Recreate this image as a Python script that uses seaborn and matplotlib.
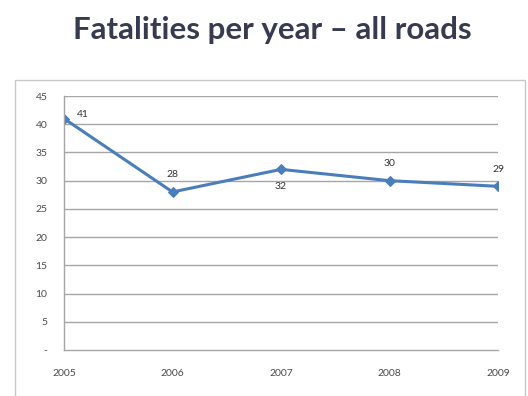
import matplotlib
matplotlib.use("Agg")
import matplotlib.pyplot as plt
from matplotlib.patches import Rectangle
import seaborn as sns
import pandas as pd

years = [2005, 2006, 2007, 2008, 2009]
fatalities = [41, 28, 32, 30, 29]
label_pos = ["right", "above", "below", "above", "above"]
y_ticks = [0, 5, 10, 15, 20, 25, 30, 35, 40, 45]
y_tick_labels = ["-", "5", "10", "15", "20", "25", "30", "35", "40", "45"]

sns.set_theme(style="white")
plt.rcParams["font.family"] = ["Lato", "DejaVu Sans"]

df = pd.DataFrame({"year": years, "fatalities": fatalities})

fig = plt.figure(figsize=(5.28, 3.96), dpi=100)
fig.patch.set_facecolor("white")

# chart frame around the plot area
fig.patches.append(Rectangle((15 / 528, -0.05), 510 / 528, 1 - 80 / 396 + 0.05,
                             transform=fig.transFigure, fill=False,
                             edgecolor="#c8c8c8", linewidth=1.0))

fig.text(0.515, 0.925, "Fatalities per year \u2013 all roads", ha="center", va="center",
         fontsize=22.5, fontweight="bold", color="#373b4f")

ax = fig.add_axes([64 / 528, 1 - 350 / 396, 434 / 528, 254 / 396])
sns.lineplot(data=df, x="year", y="fatalities", ax=ax, color="#4a7ebb",
             linewidth=2.2, marker="D", markersize=5.5, markeredgecolor="#4a7ebb")

ax.set_xlim(2005, 2009)
ax.set_ylim(0, 45)
ax.set_xticks(years)
ax.set_xticklabels([str(y) for y in years])
ax.set_yticks(y_ticks)
ax.set_yticklabels(y_tick_labels)
ax.set_xlabel("")
ax.set_ylabel("")

for t in y_ticks[1:]:
    ax.axhline(t, color="#a6a6a6", linewidth=1.0, zorder=0)

for s in ["top", "right"]:
    ax.spines[s].set_visible(False)
for s in ["left", "bottom"]:
    ax.spines[s].set_color("#a6a6a6")
    ax.spines[s].set_linewidth(1.0)

ax.tick_params(axis="both", which="major", length=4, width=0.8, color="#a6a6a6",
               labelsize=7.5, labelcolor="#4a4a4a", direction="out")
ax.tick_params(axis="x", pad=10)
ax.tick_params(axis="y", pad=8)

for x, y, pos in zip(years, fatalities, label_pos):
    if pos == "right":
        ax.annotate(str(y), (x, y), xytext=(9, 3), textcoords="offset points",
                    ha="left", va="center", fontsize=7.5, color="#333333")
    elif pos == "above":
        ax.annotate(str(y), (x, y), xytext=(0, 9), textcoords="offset points",
                    ha="center", va="bottom", fontsize=7.5, color="#333333")
    else:
        ax.annotate(str(y), (x, y), xytext=(0, -9), textcoords="offset points",
                    ha="center", va="top", fontsize=7.5, color="#333333")

fig.savefig("out.png", dpi=100)
